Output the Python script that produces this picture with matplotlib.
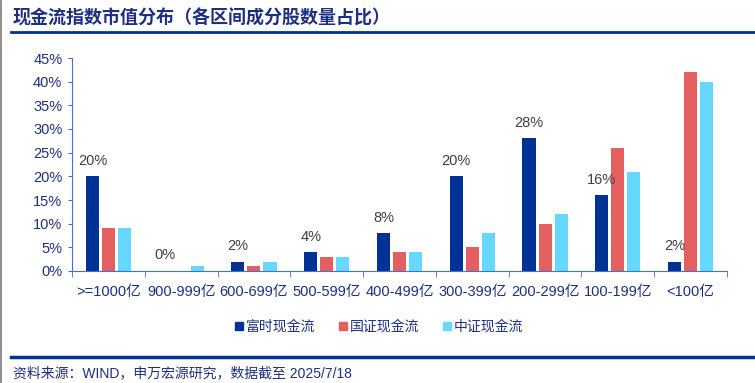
import numpy as np
import matplotlib.pyplot as plt
from matplotlib.lines import Line2D

plt.rcParams['font.family'] = ['Liberation Sans', 'Noto Sans CJK SC', 'DejaVu Sans']

cats = ['>=1000亿', '900-999亿', '600-699亿', '500-599亿', '400-499亿',
        '300-399亿', '200-299亿', '100-199亿', '<100亿']
ftse = [20, 0, 2, 4, 8, 20, 28, 16, 2]
cni = [9, 0, 1, 3, 4, 5, 10, 26, 42]
csi = [9, 1, 2, 3, 4, 8, 12, 21, 40]
names = ['富时现金流', '国证现金流', '中证现金流']
colors = ['#003296', '#E46060', '#66D8FF']

navy = '#1F2F80'
fig = plt.figure(figsize=(7.55, 3.83), dpi=100)
ax = fig.add_axes([72/755, 1-271/383, 655/755, 213/383])

x = np.arange(len(cats))
w = 0.18
step = 0.22
for i, (vals, c) in enumerate(zip([ftse, cni, csi], colors)):
    ax.bar(x + (i-1)*step, vals, width=w, color=c, label=names[i])
for xi, v in zip(x, ftse):
    ax.text(xi - step, v + 1.8, f'{v}%', ha='center', va='bottom',
            fontsize=10.5, color='#404040')

ax.set_xlim(-0.5, len(cats)-0.5)
ax.set_ylim(0, 45)
ax.set_yticks(range(0, 46, 5))
ax.set_yticklabels([f'{v}%' for v in range(0, 46, 5)], fontsize=10.5, color=navy)
ax.set_xticks(x)
ax.set_xticklabels(cats, fontsize=10.5, color=navy)
ax.set_xticks(np.arange(-0.5, len(cats)), minor=True)
ax.tick_params(axis='x', which='major', length=0, pad=10)
ax.tick_params(axis='x', which='minor', length=4, color='#4472C4')
ax.tick_params(axis='y', length=3, color='#4472C4', pad=4)
for s in ['top', 'right']:
    ax.spines[s].set_visible(False)
for s in ['left', 'bottom']:
    ax.spines[s].set_color('#4472C4')

handles = [Line2D([], [], marker='s', linestyle='none', color=c, markersize=6)
           for c in colors]
fig.legend(handles, names, loc='center', bbox_to_anchor=(0.5, 1-327/383),
           ncol=3, frameon=False, fontsize=10, handletextpad=0.0,
           handlelength=1.0, columnspacing=1.5, labelcolor=navy)

fig.text(13/755, 1-18/383, '现金流指数市值分布（各区间成分股数量占比）', fontsize=13,
         fontweight='bold', color=navy, ha='left', va='center')
fig.add_artist(Line2D([11/755, 1], [1-32/383, 1-32/383], color='#003296', lw=2))
fig.add_artist(Line2D([11/755, 1], [1-357/383, 1-357/383], color='#003296', lw=2.5))
fig.add_artist(Line2D([1/755, 1/755], [0, 1], color='#909090', lw=1.5))
fig.text(13/755, 1-373/383, '资料来源：WIND，申万宏源研究，数据截至 2025/7/18',
         fontsize=10, color=navy, ha='left', va='center')

fig.savefig('out.png', dpi=100)
